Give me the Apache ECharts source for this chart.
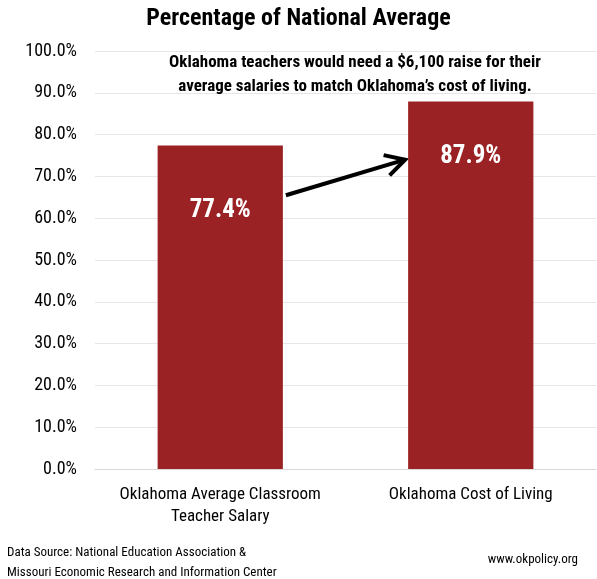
<!DOCTYPE html>
<html>
<head>
<meta charset="utf-8">
<script src="https://cdn.jsdelivr.net/npm/echarts@6/dist/echarts.min.js"></script>
<style>html,body{margin:0;padding:0;background:#fff}#chart{width:597px;height:579px}</style>
</head>
<body>
<div id="chart"></div>
<script>
var categories = ['Oklahoma Average Classroom\nTeacher Salary', 'Oklahoma Cost of Living'];
var values = [77.4, 87.9];
var labelOffsets = [53, 43];
var FONT = '"Liberation Sans Narrow", "Roboto Condensed", "Open Sans", sans-serif';

var myChart = echarts.init(document.getElementById('chart'));
var option = {
    animation: false,
    textStyle: { fontFamily: FONT },
    title: [
        { text: 'Percentage of National Average', left: 'center', top: 2,
          textStyle: { fontFamily: FONT, fontSize: 24, fontWeight: 'bold', color: '#000' } },
        { text: 'Oklahoma teachers would need a $6,100 raise for their\naverage salaries to match Oklahoma\u2019s cost of living.',
          left: 350, top: 46, textAlign: 'center',
          textStyle: { fontFamily: FONT, fontSize: 17, fontWeight: 'bold', color: '#000', lineHeight: 24 } },
        { text: 'Data Source: National Education Association &\nMissouri Economic Research and Information Center',
          left: 2, top: 538,
          textStyle: { fontFamily: FONT, fontSize: 13, fontWeight: 'normal', color: '#000', lineHeight: 20 } },
        { text: 'www.okpolicy.org', right: 14, top: 548,
          textStyle: { fontFamily: FONT, fontSize: 13, fontWeight: 'normal', color: '#000' } }
    ],
    grid: { left: 95, right: 1, top: 51, bottom: 110 },
    xAxis: {
        type: 'category', data: categories,
        axisTick: { show: false },
        axisLine: { lineStyle: { color: '#d9d9d9' } },
        axisLabel: { color: '#000', fontSize: 17, lineHeight: 22, margin: 15, fontFamily: FONT, interval: 0 }
    },
    yAxis: {
        type: 'value', min: 0, max: 100, interval: 10,
        axisLabel: { color: '#000', fontSize: 18, margin: 18, fontFamily: FONT,
            formatter: function (v) { return v.toFixed(1) + '%'; } },
        splitLine: { lineStyle: { color: '#e6e6e6' } }
    },
    series: [{
        type: 'bar', barWidth: '50%',
        itemStyle: { color: '#9a2224' },
        data: values.map(function (v, i) {
            return { value: v, label: { show: true, position: ['50%', labelOffsets[i]], align: 'center',
                color: '#fff', fontSize: 25, fontWeight: 'bold', fontFamily: FONT,
                formatter: v.toFixed(1) + '%' } };
        })
    }]
};
myChart.setOption(option);

// arrow from first bar to second bar
var p1 = myChart.convertToPixel({ gridIndex: 0 }, [0, 65.5]);
var p2 = myChart.convertToPixel({ gridIndex: 0 }, [1, 74]);
var half = myChart.getModel().getComponent('xAxis', 0).axis.getBandWidth() * 0.25;
var x1 = p1[0] + half + 3, y1 = p1[1], x2 = p2[0] - half - 3, y2 = p2[1];
var ang = Math.atan2(y2 - y1, x2 - x1), L = 22, w = 0.5;
myChart.setOption({
    graphic: [
        { type: 'line', shape: { x1: x1, y1: y1, x2: x2, y2: y2 }, style: { stroke: '#000', lineWidth: 4 } },
        { type: 'polyline', shape: { points: [
            [x2 - L * Math.cos(ang - w), y2 - L * Math.sin(ang - w)], [x2, y2],
            [x2 - L * Math.cos(ang + w), y2 - L * Math.sin(ang + w)]] },
          style: { stroke: '#000', lineWidth: 4, fill: null } }
    ]
});
</script>
</body>
</html>
